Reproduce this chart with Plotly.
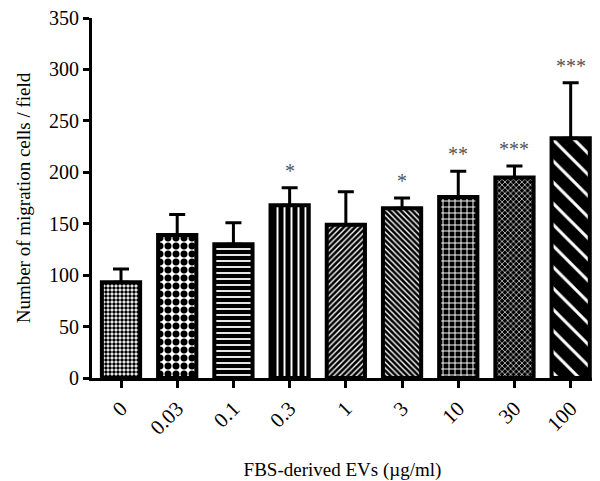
import plotly.graph_objects as go

categories = ["0", "0.03", "0.1", "0.3", "1", "3", "10", "30", "100"]
means = [93, 139, 130, 168, 149, 165, 176, 195, 233]
sem = [13, 20, 21, 17, 32, 10, 25, 11, 54]
stars = ["", "", "", "*", "", "*", "**", "***", "***"]

pattern_shapes = [".", ".", "-", "|", "/", "\\", "+", "x", "\\"]
pattern_bg = ["white", "white", "black", "black", "black", "black", "black", "black", "black"]
pattern_fg = ["black", "black", "white", "white", "white", "white", "white", "white", "white"]
pattern_size = [4, 8, 6, 7, 4, 4, 6, 4, 15]
pattern_solidity = [0.6, 0.6, 0.3, 0.28, 0.35, 0.35, 0.3, 0.3, 0.2]

font_family = "Liberation Serif, Times New Roman, serif"

fig = go.Figure()
fig.add_trace(go.Bar(
    x=list(range(len(categories))),
    y=means,
    width=0.68,
    marker=dict(
        color="white",
        line=dict(color="black", width=4),
        pattern=dict(
            shape=pattern_shapes,
            bgcolor=pattern_bg,
            fgcolor=pattern_fg,
            size=pattern_size,
            solidity=pattern_solidity,
            fillmode="replace",
        ),
    ),
    error_y=dict(
        type="data",
        symmetric=False,
        array=sem,
        arrayminus=[0] * len(sem),
        color="black",
        thickness=3,
        width=8,
    ),
    showlegend=False,
))

for i, s in enumerate(stars):
    if s:
        fig.add_annotation(
            x=i, y=means[i] + sem[i], text=s, showarrow=False,
            yanchor="bottom", yshift=4,
            font=dict(family=font_family, size=20, color="#555555"),
        )

# page body has an 8px margin, so the figure is sized to fit inside it
fig.update_layout(
    width=592, height=473,
    margin=dict(l=84, r=7, t=10, b=103),
    plot_bgcolor="white", paper_bgcolor="white",
    font=dict(family=font_family, color="black"),
    xaxis=dict(
        range=[-0.516, 8.397],
        tickmode="array",
        tickvals=list(range(len(categories))),
        ticktext=categories,
        tickangle=-45,
        ticks="outside", ticklen=7, tickwidth=3, tickcolor="black",
        showline=True, linecolor="black", linewidth=3,
        showgrid=False, zeroline=False,
        automargin=False,
        tickfont=dict(size=21, family=font_family),
        title=dict(text="FBS-derived EVs (µg/ml)", font=dict(size=19, family=font_family), standoff=30),
    ),
    yaxis=dict(
        range=[0, 350],
        tickmode="linear", tick0=0, dtick=50,
        ticks="outside", ticklen=6, tickwidth=3, tickcolor="black",
        showline=True, linecolor="black", linewidth=3,
        showgrid=False, zeroline=False,
        automargin=False,
        ticklabeloverflow="allow",
        tickfont=dict(size=20, family=font_family),
        title=dict(text="Number of migration cells / field", font=dict(size=19, family=font_family), standoff=14),
    ),
)

fig.write_html("out.html")
